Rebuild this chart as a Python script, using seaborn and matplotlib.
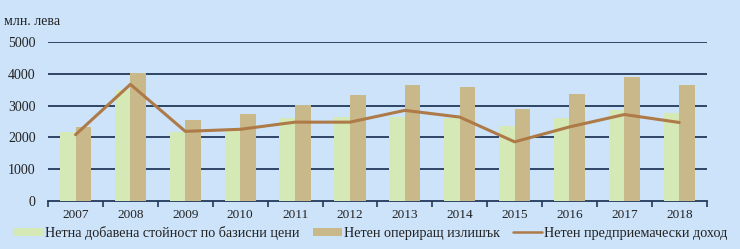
import numpy as np
import pandas as pd
import matplotlib
matplotlib.use("Agg")
import matplotlib.pyplot as plt
import seaborn as sns
from matplotlib.lines import Line2D
from matplotlib.patches import Patch

years = ["2007", "2008", "2009", "2010", "2011", "2012", "2013", "2014", "2015", "2016", "2017", "2018"]
net_value_added = [2180, 3480, 2180, 2230, 2620, 2640, 2640, 2610, 2370, 2600, 2870, 2770]
net_operating_surplus = [2340, 4040, 2550, 2730, 3030, 3330, 3660, 3575, 2900, 3370, 3890, 3660]
net_entrepreneurial_income = [2085, 3670, 2190, 2255, 2480, 2480, 2850, 2640, 1860, 2330, 2720, 2470]

series_names = ["Нетна добавена стойност по базисни цени",
                "Нетен опериращ излишък",
                "Нетен предприемачески доход"]
y_unit = "млн. лева"

sns.set_theme(style="white")
plt.rcParams['font.family'] = ['Liberation Serif', 'DejaVu Serif']

bg = "#cce3fa"
green = "#d5e9b6"
tan = "#c9b98a"
brown = "#ad7a48"
grid_c = "#22395a"
txt = "#222222"

df = pd.DataFrame({
    "year": years * 2,
    "value": net_value_added + net_operating_surplus,
    "series": [series_names[0]] * len(years) + [series_names[1]] * len(years),
})

fig = plt.figure(figsize=(7.40, 2.49), dpi=100, facecolor=bg)
ax = fig.add_axes([0.065, 0.193, 0.890, 0.638])
ax.set_facecolor(bg)

sns.barplot(data=df, x="year", y="value", hue="series",
            palette=[green, tan], width=0.57, saturation=1, linewidth=0,
            ax=ax, legend=False, zorder=3)

xs = np.arange(len(years))
ax.plot(xs, net_entrepreneurial_income, color=brown, lw=2.2, zorder=4)

ax.set_ylim(0, 5000)
ax.set_xlim(-0.5, len(years) - 0.5)
ax.set_yticks([0, 1000, 2000, 3000, 4000, 5000])
for v in [1000, 2000, 3000, 4000, 5000]:
    ax.axhline(v, color=grid_c, lw=1.3, zorder=1)

for s in ["left", "right", "top"]:
    ax.spines[s].set_visible(False)
ax.spines["bottom"].set_color(grid_c)
ax.spines["bottom"].set_linewidth(1.3)

ax.set_xlabel("")
ax.set_ylabel("")
ax.tick_params(axis="y", length=0, pad=9, labelsize=10, labelcolor=txt)
ax.tick_params(axis="x", which="major", length=0, pad=6, labelsize=9.5, labelcolor=txt)
ax.set_xticks(np.arange(-0.5, len(years), 1), minor=True)
ax.tick_params(axis="x", which="minor", length=4, width=1.2, color=grid_c, direction="out", bottom=True)

fig.text(0.005, 0.915, y_unit, fontsize=10, color=txt, va="center", ha="left")

handles = [Patch(facecolor=green, edgecolor="none"),
           Patch(facecolor=tan, edgecolor="none"),
           Line2D([0], [0], color=brown, lw=1.8)]
fig.legend(handles, series_names, loc="center left", bbox_to_anchor=(0.001, 0.065),
           ncol=3, frameon=False, fontsize=10.2, handlelength=2.05, handleheight=0.55,
           handletextpad=0.15, columnspacing=0.95, labelcolor=txt)

fig.savefig("out.png", dpi=100, facecolor=bg)
